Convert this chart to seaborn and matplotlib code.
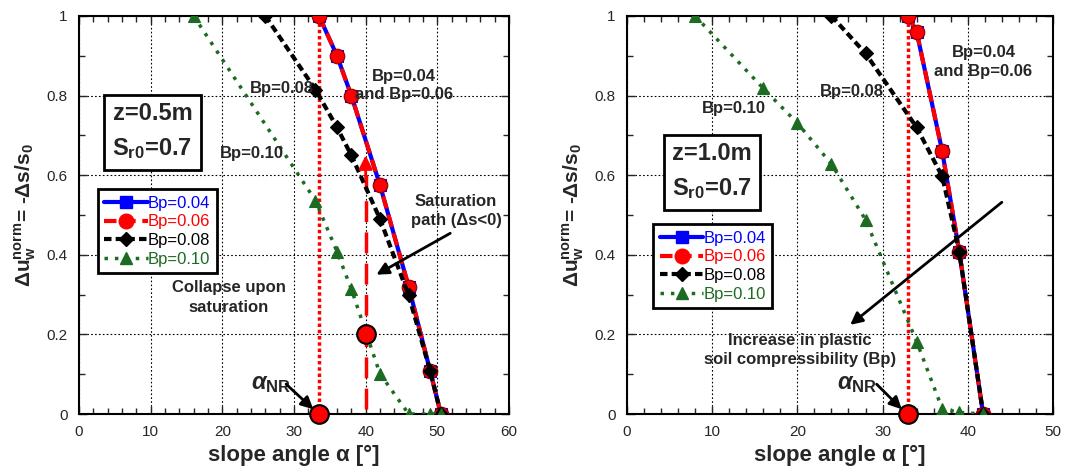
import numpy as np
import pandas as pd
import matplotlib
matplotlib.use("Agg")
import matplotlib.pyplot as plt
import seaborn as sns
from matplotlib.lines import Line2D

# values: z = 0.5 m
ang_a_004 = [33.5, 36, 38, 42, 46, 49, 50.5]
du_a_004 = [1.0, 0.9, 0.8, 0.575, 0.32, 0.108, 0.0]
ang_a_006 = [33.5, 36, 38, 42, 46, 49, 50.5]
du_a_006 = [1.0, 0.9, 0.8, 0.575, 0.32, 0.108, 0.0]
ang_a_008 = [26, 33, 36, 38, 42, 46, 49, 50.5]
du_a_008 = [1.0, 0.815, 0.72, 0.65, 0.49, 0.298, 0.108, 0.0]
ang_a_010 = [16, 33, 36, 38, 42, 46, 49, 50.5]
du_a_010 = [1.0, 0.536, 0.408, 0.314, 0.101, 0.0, 0.0, 0.0]

# z = 1.0 m
ang_b_004 = [33, 34, 37, 39, 41.8]
du_b_004 = [1.0, 0.96, 0.66, 0.408, 0.0]
ang_b_006 = [33, 34, 37, 39, 41.8]
du_b_006 = [1.0, 0.96, 0.66, 0.408, 0.0]
ang_b_008 = [24, 28, 34, 37, 39, 41.8]
du_b_008 = [1.0, 0.906, 0.72, 0.597, 0.408, 0.0]
ang_b_010 = [8, 16, 20, 24, 28, 34, 37, 39, 41.8]
du_b_010 = [1.0, 0.818, 0.731, 0.628, 0.488, 0.182, 0.013, 0.004, 0.0]

alpha_nr = [33.5, 33.0]
collapse_angle = 40
collapse_du = 0.2
collapse_top = 0.6

labels = ["Bp=0.04", "Bp=0.06", "Bp=0.08", "Bp=0.10"]
colors = ["#0000ff", "#ff0000", "#000000", "#1d6b22"]

sns.set_style("ticks", {"xtick.direction": "in", "ytick.direction": "in"})
plt.rcParams["font.family"] = ["Liberation Sans", "DejaVu Sans"]
plt.rcParams["mathtext.fontset"] = "custom"
plt.rcParams["mathtext.rm"] = "Liberation Sans:bold"
plt.rcParams["mathtext.it"] = "Liberation Sans:bold:italic"
plt.rcParams["mathtext.bf"] = "Liberation Sans:bold"

fig = plt.figure(figsize=(10.86, 4.75), dpi=100)
ax1 = fig.add_axes([0.0727, 0.1284, 0.396, 0.838])
ax2 = fig.add_axes([0.5773, 0.1284, 0.3923, 0.838])

styles = [
    dict(marker="s", ms=9, lw=3, dashes=None),
    dict(marker="o", ms=10.5, lw=3, dashes=(3, 1.6)),
    dict(marker="D", ms=7.5, lw=3, dashes=(1.8, 1)),
    dict(marker="^", ms=9, lw=2.5, dashes=(1, 2)),
]


def draw_series(ax, xs, ys):
    for x, y, c, st in zip(xs, ys, colors, styles):
        sns.lineplot(x=x, y=y, ax=ax, color=c, marker=st["marker"],
                     markersize=st["ms"], markeredgecolor=c, markeredgewidth=0.8,
                     linewidth=st["lw"], sort=False, legend=False, zorder=3)
        line = ax.lines[-1]
        if st["dashes"] is not None:
            line.set_dashes(st["dashes"])
            line.set_dash_capstyle("butt")
        if c == "#ff0000":
            line.set_markeredgecolor("#8b0000")


def style_axes(ax, xmax):
    ax.set_xlim(0, xmax)
    ax.set_ylim(0, 1)
    ax.set_xticks(np.arange(0, xmax + 1, 10))
    ax.set_xticks(np.arange(0, xmax + 1, 2), minor=True)
    ax.set_yticks([0, 0.2, 0.4, 0.6, 0.8, 1])
    ax.set_yticklabels(["0", "0.2", "0.4", "0.6", "0.8", "1"])
    ax.set_yticks(np.arange(0, 1.01, 0.1), minor=True)
    ax.tick_params(which="both", top=True, right=True, direction="in",
                   labelsize=11, width=1)
    ax.tick_params(which="major", length=6, pad=8)
    ax.tick_params(which="minor", length=4)
    ax.grid(True, which="major", color="black", linestyle=(0, (1.5, 2)), lw=0.8)
    for s in ax.spines.values():
        s.set_linewidth(1.5)
        s.set_color("black")
    ax.set_xlabel("slope angle α [°]", fontsize=16, fontweight="bold", labelpad=4)
    ax.set_ylabel(r"$\Delta {\rm u}_{\rm w}^{\rm norm}$= -Δs/s$_{\rm 0}$",
                  fontsize=15, fontweight="bold", labelpad=6)


def add_legend(ax, x0, y0):
    handles = []
    for c, st in zip(colors, styles):
        h = Line2D([], [], color=c, marker=st["marker"], markersize=st["ms"],
                   lw=st["lw"], markeredgecolor=c)
        if st["dashes"] is not None:
            h.set_dashes(st["dashes"])
        handles.append(h)
    leg = ax.legend(handles, labels, loc="upper left", bbox_to_anchor=(x0, y0),
                    bbox_transform=ax.transData, borderaxespad=0, fontsize=12,
                    handlelength=2.6, handletextpad=0.0, labelspacing=0.22,
                    borderpad=0.4, fancybox=False, framealpha=1)
    leg.get_frame().set_edgecolor("black")
    leg.get_frame().set_linewidth(2)
    for t, c in zip(leg.get_texts(), colors):
        t.set_color(c)


arrow_kw = dict(arrowstyle="-|>", color="black", lw=2, mutation_scale=18,
                shrinkA=0, shrinkB=0)
bold = dict(fontsize=12, fontweight="bold", ha="center", va="center")

# left panel
draw_series(ax1, [ang_a_004, ang_a_006, ang_a_008, ang_a_010],
            [du_a_004, du_a_006, du_a_008, du_a_010])
ax1.plot([alpha_nr[0], alpha_nr[0]], [0, 1], color="#ff0000", lw=2.5,
         dashes=(1, 0.8), zorder=2)
ax1.plot([collapse_angle, collapse_angle], [0.012, collapse_top], color="#ff0000",
         lw=2.5, dashes=(6, 3), zorder=2)
ax1.annotate("", xy=(collapse_angle, collapse_top + 0.05),
             xytext=(collapse_angle, collapse_top - 0.01),
             arrowprops=dict(arrowstyle="-|>", color="#ff0000", lw=2,
                             mutation_scale=20, shrinkA=0, shrinkB=0), zorder=4)
sns.scatterplot(x=[alpha_nr[0], collapse_angle], y=[0, collapse_du], ax=ax1,
                s=180, color="#ff0000", edgecolor="black", linewidth=1.5,
                zorder=6, clip_on=False, legend=False)
style_axes(ax1, 60)
add_legend(ax1, 2.6, 0.565)
ax1.text(10.25, 0.709, "z=0.5m\nS$_{\\rm r0}$=0.7", fontsize=17, fontweight="bold",
         ha="center", va="center", linespacing=1.6,
         bbox=dict(boxstyle="square,pad=0.35", fc="white", ec="black", lw=2))
ax1.text(45.4, 0.825, "Bp=0.04\nand Bp=0.06", linespacing=1.3, **bold)
ax1.text(28.3, 0.818, "Bp=0.08", **bold)
ax1.text(24.1, 0.655, "Bp=0.10", **bold)
ax1.text(52.6, 0.51, "Saturation\npath (Δs<0)", linespacing=1.4, **bold)
ax1.text(20.9, 0.293, "Collapse upon\nsaturation", linespacing=1.4, **bold)
ax1.text(26.8, 0.075, r"$\alpha_{\rm NR}$", fontsize=17, ha="center", va="center")
ax1.annotate("", xy=(41.5, 0.35), xytext=(51.8, 0.454), arrowprops=arrow_kw)
ax1.annotate("", xy=(32.7, 0.012), xytext=(28.9, 0.075), arrowprops=arrow_kw)

# right panel
draw_series(ax2, [ang_b_004, ang_b_006, ang_b_008, ang_b_010],
            [du_b_004, du_b_006, du_b_008, du_b_010])
ax2.plot([alpha_nr[1], alpha_nr[1]], [0, 1], color="#ff0000", lw=2.5,
         dashes=(1, 0.8), zorder=2)
sns.scatterplot(x=[alpha_nr[1]], y=[0], ax=ax2, s=180, color="#ff0000",
                edgecolor="black", linewidth=1.5, zorder=6, clip_on=False,
                legend=False)
style_axes(ax2, 50)
add_legend(ax2, 3.1, 0.477)
ax2.text(9.95, 0.609, "z=1.0m\nS$_{\\rm r0}$=0.7", fontsize=17, fontweight="bold",
         ha="center", va="center", linespacing=1.6,
         bbox=dict(boxstyle="square,pad=0.35", fc="white", ec="black", lw=2))
ax2.text(41.85, 0.884, "Bp=0.04\nand Bp=0.06", linespacing=1.3, **bold)
ax2.text(26.45, 0.81, "Bp=0.08", **bold)
ax2.text(12.5, 0.768, "Bp=0.10", **bold)
ax2.text(20.3, 0.16, "Increase in plastic\nsoil compressibility (Bp)",
         linespacing=1.35, **bold)
ax2.text(27.0, 0.075, r"$\alpha_{\rm NR}$", fontsize=17, ha="center", va="center")
ax2.annotate("", xy=(26.2, 0.224), xytext=(44.0, 0.532), arrowprops=arrow_kw)
ax2.annotate("", xy=(32.25, 0.012), xytext=(29.3, 0.075), arrowprops=arrow_kw)

fig.savefig("out.png", dpi=100)
